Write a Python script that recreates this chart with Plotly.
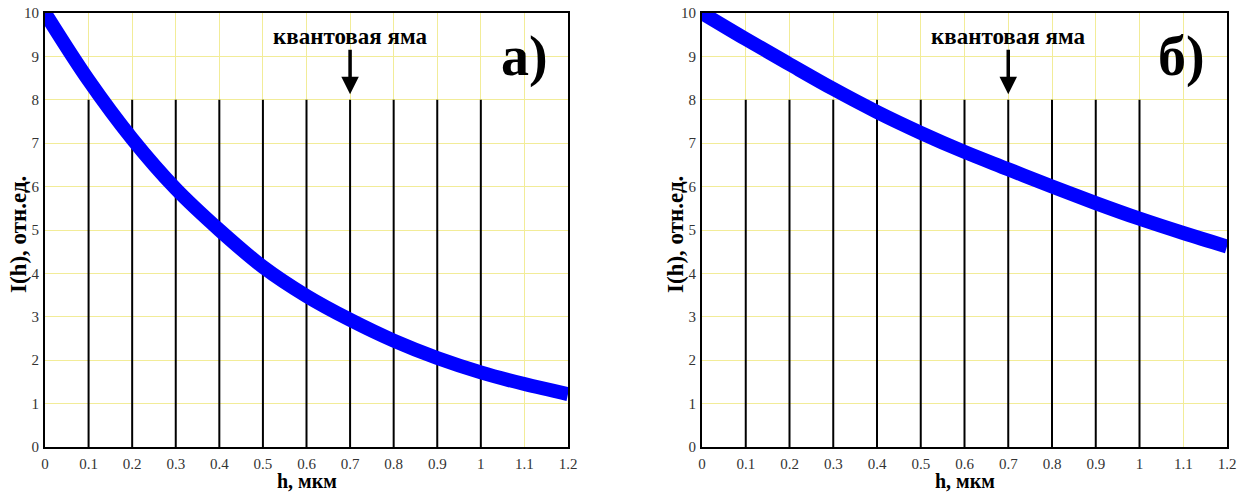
import plotly.graph_objects as go

# ---- data ----
h_values = [0.0, 0.1, 0.2, 0.3, 0.4, 0.5, 0.6, 0.7, 0.8, 0.9, 1.0, 1.1, 1.2]
intensity_a = [10.0, 8.45, 7.1, 5.95, 5.0, 4.15, 3.48, 2.93, 2.45, 2.05, 1.72, 1.45, 1.22]
intensity_b = [10.0, 9.4, 8.82, 8.25, 7.72, 7.24, 6.8, 6.4, 6.0, 5.62, 5.26, 4.93, 4.62]
layer_positions = [0.1, 0.2, 0.3, 0.4, 0.5, 0.6, 0.7, 0.8, 0.9, 1.0]
layer_top = 8
well_position = 0.7
x_tick_vals = [0.0, 0.1, 0.2, 0.3, 0.4, 0.5, 0.6, 0.7, 0.8, 0.9, 1.0, 1.1, 1.2]
x_tick_text = ["0", "0.1", "0.2", "0.3", "0.4", "0.5", "0.6", "0.7", "0.8", "0.9", "1", "1.1", "1.2"]
y_tick_vals = [0, 1, 2, 3, 4, 5, 6, 7, 8, 9, 10]
panel_labels = ["а)", "б)"]
well_label = "квантовая яма"
x_title = "h, мкм"
y_title = "I(h), отн.ед."

W, H = 1256, 493
SERIF = "Liberation Serif"
GRID = "#f2ec98"

fig = go.Figure()

panels = [
    dict(x="x", y="y", xa="xaxis", ya="yaxis", data=intensity_a, px=(45, 568), lab_x=1.1),
    dict(x="x2", y="y2", xa="xaxis2", ya="yaxis2", data=intensity_b, px=(702, 1227), lab_x=1.095),
]
y_px = (13, 447)

for i, p in enumerate(panels):
    # black vertical layer lines
    lx, ly = [], []
    for xv in layer_positions:
        lx += [xv, xv, None]
        ly += [0, layer_top, None]
    fig.add_trace(go.Scatter(x=lx, y=ly, mode="lines", xaxis=p["x"], yaxis=p["y"],
                             line=dict(color="black", width=2), hoverinfo="skip",
                             showlegend=False))
    # intensity curve
    fig.add_trace(go.Scatter(x=h_values, y=p["data"], mode="lines", xaxis=p["x"], yaxis=p["y"],
                             line=dict(color="#0000ff", width=14, shape="spline"),
                             showlegend=False))
    dom_x = [p["px"][0] / W, p["px"][1] / W]
    dom_y = [1 - y_px[1] / H, 1 - y_px[0] / H]
    fig.update_layout(**{
        p["xa"]: dict(domain=dom_x, range=[0, 1.2], tickvals=x_tick_vals, ticktext=x_tick_text,
                      showgrid=True, gridcolor=GRID, gridwidth=1, zeroline=False,
                      showline=True, linecolor="black", linewidth=2, mirror=True,
                      ticks="", automargin=False, ticklabelstandoff=2,
                      tickfont=dict(family=SERIF, size=15, color="#333"),
                      anchor=p["y"]),
        p["ya"]: dict(domain=dom_y, range=[0, 10], tickvals=y_tick_vals,
                      showgrid=True, gridcolor=GRID, gridwidth=1, zeroline=False,
                      showline=True, linecolor="black", linewidth=2, mirror=True,
                      ticks="", ticklabelstandoff=1, automargin=False,
                      tickfont=dict(family=SERIF, size=15, color="#333"),
                      anchor=p["x"]),
    })
    # well label and arrow
    fig.add_annotation(x=well_position, y=9.45, xref=p["x"], yref=p["y"],
                       text="<b>" + well_label + "</b>",
                       showarrow=False, font=dict(family=SERIF, size=23, color="black"),
                       xanchor="center", yanchor="middle")
    fig.add_annotation(x=well_position, y=8.13, ax=well_position, ay=9.19,
                       xref=p["x"], yref=p["y"], axref=p["x"], ayref=p["y"], text="",
                       showarrow=True, arrowhead=2, arrowsize=1, arrowwidth=3.5,
                       arrowcolor="black")
    # panel label
    fig.add_annotation(x=p["lab_x"], y=9.0, xref=p["x"], yref=p["y"],
                       text="<b>" + panel_labels[i] + "</b>", showarrow=False,
                       xanchor="center", yanchor="middle",
                       font=dict(family=SERIF, size=56, color="black"))
    # axis titles
    cx = (p["px"][0] + p["px"][1]) / 2 / W
    fig.add_annotation(x=cx, y=1 - 481 / H, xref="paper", yref="paper",
                       text="<b>" + x_title + "</b>", showarrow=False,
                       xanchor="center", yanchor="middle",
                       font=dict(family=SERIF, size=20, color="black"))
    fig.add_annotation(x=(p["px"][0] - 27) / W, y=1 - 235 / H, xref="paper", yref="paper",
                       text="<b>" + y_title + "</b>", showarrow=False, textangle=-90,
                       xanchor="center", yanchor="middle",
                       font=dict(family=SERIF, size=23, color="black"))

fig.update_layout(width=W, height=H, margin=dict(l=0, r=0, t=0, b=0),
                  plot_bgcolor="white", paper_bgcolor="white", showlegend=False)

fig.write_html("out.html", config={"displayModeBar": False},
               post_script="document.body.style.margin='0';")
